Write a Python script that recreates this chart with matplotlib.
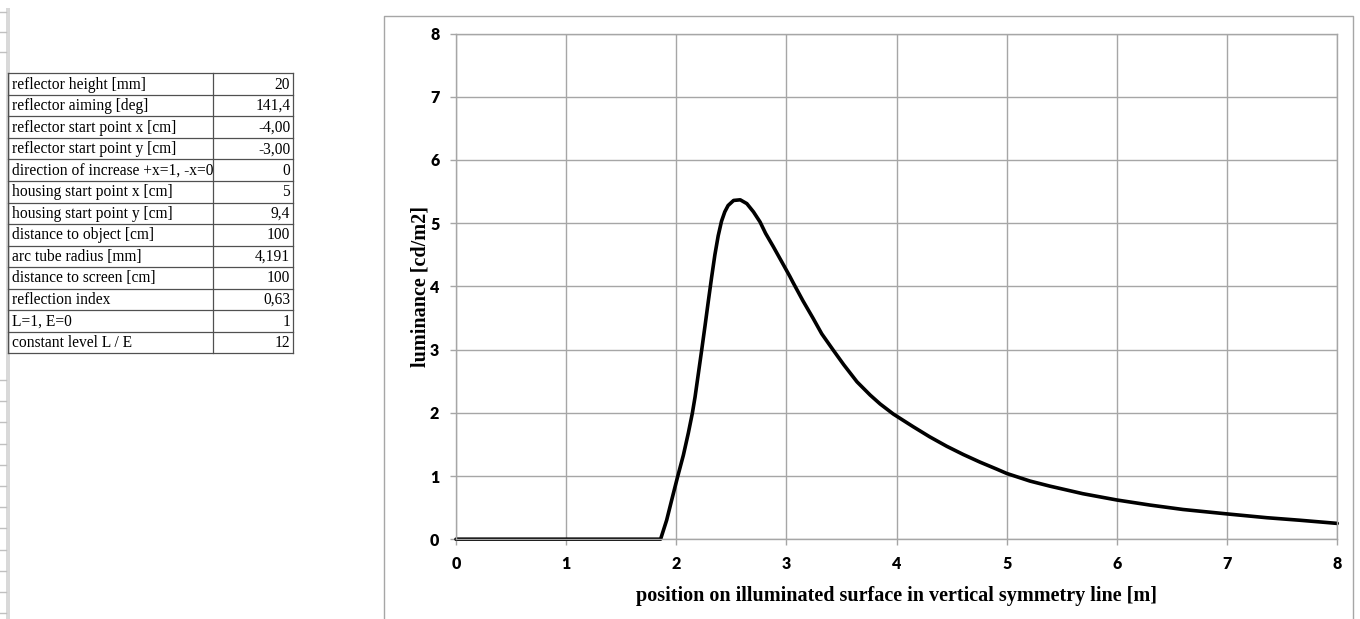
import matplotlib
matplotlib.use("Agg")
import matplotlib.pyplot as plt
from matplotlib.patches import Rectangle

# ---- data ----
position_m = [0.00, 1.857, 1.912, 1.958, 2.012, 2.064, 2.109, 2.145, 2.17, 2.20,
              2.23, 2.26, 2.29, 2.32, 2.35, 2.38, 2.41, 2.44, 2.47, 2.52,
              2.58, 2.64, 2.70, 2.76, 2.81, 2.88, 2.96, 3.03, 3.06, 3.15,
              3.24, 3.32, 3.425, 3.52, 3.64, 3.76, 3.85, 3.97, 4.15, 4.30,
              4.455, 4.605, 4.756, 4.907, 5.00, 5.21, 5.39, 5.69, 6.00, 6.30,
              6.60, 7.00, 7.36, 7.66, 8.00]
luminance = [0.00, 0.00, 0.30, 0.62, 0.99, 1.33, 1.68, 1.99, 2.25, 2.62,
             2.99, 3.37, 3.76, 4.14, 4.50, 4.80, 5.03, 5.18, 5.28, 5.36,
             5.37, 5.31, 5.18, 5.02, 4.84, 4.63, 4.38, 4.16, 4.06, 3.77,
             3.50, 3.25, 2.99, 2.76, 2.49, 2.28, 2.14, 1.98, 1.78, 1.62,
             1.47, 1.34, 1.22, 1.11, 1.04, 0.92, 0.84, 0.72, 0.62, 0.54,
             0.47, 0.40, 0.34, 0.30, 0.25]

x_ticks = [0, 1, 2, 3, 4, 5, 6, 7, 8]
y_ticks = [0, 1, 2, 3, 4, 5, 6, 7, 8]

table_labels = ["reflector height [mm]", "reflector aiming [deg]",
                "reflector start point x [cm]", "reflector start point y [cm]",
                "direction of increase +x=1, -x=0", "housing start point x [cm]",
                "housing start point y [cm]", "distance to object [cm]",
                "arc tube radius [mm]", "distance to screen [cm]",
                "reflection index", "L=1, E=0", "constant level L / E"]
table_values = ["20", "141,4", "-4,00", "-3,00", "0", "5", "9,4", "100",
                "4,191", "100", "0,63", "1", "12"]

W, H = 1360, 619
fig = plt.figure(figsize=(W / 100, H / 100), dpi=100)

# overlay axes in pixel coordinates for spreadsheet decoration
bg = fig.add_axes([0, 0, 1, 1])
bg.set_xlim(0, W)
bg.set_ylim(H, 0)
bg.axis("off")

# spreadsheet left gutter
bg.add_patch(Rectangle((6, 8), 4, H, facecolor="#d9d9d9", edgecolor="none"))
for yy in [11.7, 31.7, 51.7]:
    bg.plot([0, 6], [yy, yy], color="#c0c0c0", lw=1)
yy = 380
while yy < H:
    bg.plot([0, 6], [yy, yy], color="#c0c0c0", lw=1)
    yy += 21.2

tab_top, row_h = 73.3, 21.54
tab_left, tab_mid, tab_right = 8.3, 213.3, 293.3
n = len(table_labels)
tab_bot = tab_top + n * row_h

# table grid
for i in range(n + 1):
    y = tab_top + i * row_h
    bg.plot([tab_left, tab_right], [y, y], color="#505050", lw=0.9)
for x in [tab_left, tab_mid, tab_right]:
    bg.plot([x, x], [tab_top, tab_bot], color="#505050", lw=0.9)

clip = Rectangle((tab_left, tab_top), tab_mid - tab_left, tab_bot - tab_top,
                 transform=bg.transData, facecolor="none", edgecolor="none")
bg.add_patch(clip)
for i, (lab, val) in enumerate(zip(table_labels, table_values)):
    yc = tab_top + (i + 0.5) * row_h
    t = bg.text(tab_left + 4, yc + 0.5, lab, ha="left", va="center",
                family="Liberation Serif", fontsize=11.2, color="black")
    t.set_clip_path(clip)
    bg.text(tab_right - 3, yc + 0.5, val, ha="right", va="center",
            family="Liberation Serif", fontsize=11.2, color="black")

# chart area border
bg.plot([384, 384, 1353, 1353], [H + 5, 16, 16, H + 5], color="#a6a6a6", lw=1)

# ---- chart ----
x0, x1 = 456, 1337.3
y0, y1 = 539.2, 33.6
ax = fig.add_axes([x0 / W, (H - y0) / H, (x1 - x0) / W, (y0 - y1) / H])
ax.set_xlim(0, 8)
ax.set_ylim(0, 8)
ax.set_xticks(x_ticks)
ax.set_yticks(y_ticks)
ax.set_xticklabels([str(v) for v in x_ticks])
ax.set_yticklabels([str(v) for v in y_ticks])
ax.grid(True, color="#a6a6a6", lw=1)
ax.set_axisbelow(True)
for s in ax.spines.values():
    s.set_color("#a6a6a6")
    s.set_linewidth(1)
ax.tick_params(axis="both", direction="out", length=4, width=1, color="#a6a6a6",
               labelsize=11.5)
ax.tick_params(axis="y", pad=8)
ax.tick_params(axis="x", pad=8)
for lbl in ax.get_xticklabels() + ax.get_yticklabels():
    lbl.set_family("Lato")
    lbl.set_fontweight("heavy")

ax.plot(position_m, luminance, color="black", lw=2.6, solid_joinstyle="round",
        solid_capstyle="round", clip_on=False)

ax.set_xlabel("position on illuminated surface in vertical symmetry line [m]",
              family="Liberation Serif", fontweight="bold", fontsize=14.5, labelpad=10)
ax.set_ylabel("luminance [cd/m2]", family="Liberation Serif", fontweight="bold",
              fontsize=14.5, labelpad=-0.5)

fig.savefig("out.png", dpi=100)
